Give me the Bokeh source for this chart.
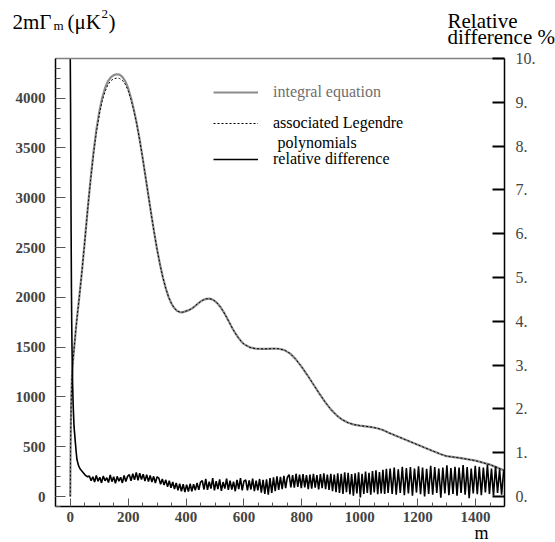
from bokeh.plotting import figure
from bokeh.models import (Range1d, LinearAxis, SingleIntervalTicker, PrintfTickFormatter,
                          FixedTicker, Label, Legend, LegendItem)
from bokeh.embed import file_html
from bokeh.resources import INLINE

# ---------------- data ----------------
cmb_m = [0, 1, 2, 3, 4, 6, 8, 10, 13, 16, 20, 25, 30, 40, 50, 60, 70, 80, 90, 100,
         110, 120, 130, 140, 150, 160, 170, 180, 190, 200, 210, 220, 230, 240, 250,
         260, 270, 280, 290, 300, 310, 320, 330, 340, 350, 360, 370, 380, 390, 400,
         410, 420, 430, 440, 450, 460, 470, 480, 490, 500, 510, 520, 530, 540, 550,
         560, 570, 580, 590, 600, 620, 640, 660, 680, 700, 720, 740, 760, 780, 800,
         820, 840, 860, 880, 900, 920, 940, 960, 980, 1000, 1020, 1040, 1060, 1080,
         1100, 1150, 1200, 1250, 1280, 1300, 1350, 1400, 1450, 1500]
cmb_int = [0, 450, 720, 900, 1030, 1200, 1300, 1380, 1480, 1570, 1700, 1840, 1970, 2250,
           2560, 2880, 3180, 3450, 3680, 3860, 4000, 4100, 4170, 4210, 4232, 4240, 4236,
           4215, 4170, 4100, 4000, 3880, 3740, 3580, 3400, 3210, 3020, 2830, 2650, 2480,
           2330, 2200, 2090, 2000, 1935, 1890, 1862, 1850, 1852, 1862, 1872, 1888, 1910,
           1935, 1958, 1975, 1985, 1987, 1980, 1962, 1935, 1898, 1852, 1800, 1745, 1690,
           1640, 1597, 1560, 1530, 1498, 1485, 1482, 1483, 1485, 1484, 1470, 1435, 1375,
           1300, 1215, 1125, 1035, 950, 875, 815, 770, 740, 722, 712, 705, 697, 685, 668,
           640, 580, 520, 460, 425, 405, 385, 360, 320, 260]
cmb_leg = [0, 450, 720, 900, 1030, 1200, 1300, 1380, 1480, 1570, 1700, 1840, 1970, 2250,
           2560, 2880, 3170, 3430, 3655, 3830, 3968, 4065, 4135, 4175, 4195, 4202, 4198,
           4180, 4140, 4075, 3985, 3870, 3735, 3575, 3400, 3210, 3020, 2830, 2650, 2480,
           2330, 2200, 2090, 2000, 1935, 1890, 1862, 1850, 1852, 1862, 1872, 1888, 1910,
           1935, 1958, 1975, 1985, 1987, 1980, 1962, 1935, 1898, 1852, 1800, 1745, 1690,
           1640, 1597, 1560, 1530, 1498, 1485, 1482, 1483, 1485, 1484, 1470, 1435, 1375,
           1300, 1215, 1125, 1035, 950, 875, 815, 770, 740, 722, 712, 705, 697, 685, 668,
           640, 580, 520, 460, 425, 405, 385, 360, 320, 260]

# relative difference (%), start of curve (visible part, clipped at 10 %)
rel_head_m = [0, 1, 2, 3, 4, 5, 6, 8, 10, 13, 17, 20, 23, 27, 30, 35, 40, 45, 50, 55, 60]
rel_head_v = [10.0, 9.0, 7.5, 6.0, 4.8, 4.0, 3.4, 2.6, 2.1, 1.6, 1.28, 1.05, 0.85, 0.74,
              0.68, 0.62, 0.58, 0.54, 0.50, 0.47, 0.45]
# relative difference (%), sampled every 6 from m = 66
rel_mid_start, rel_mid_step = 66, 6
rel_mid_v = [0.47, 0.36, 0.45, 0.33, 0.48, 0.35, 0.44, 0.31, 0.47, 0.36, 0.43, 0.32, 0.49,
             0.34, 0.45, 0.30, 0.46, 0.35, 0.44, 0.31, 0.48, 0.34, 0.46,
             0.50, 0.36, 0.52, 0.38, 0.55, 0.37, 0.53, 0.39, 0.51, 0.35, 0.50, 0.34, 0.48,
             0.33, 0.46, 0.31, 0.45,
             0.42, 0.28, 0.40, 0.26, 0.38, 0.22, 0.36, 0.20, 0.33, 0.17, 0.31, 0.14, 0.29,
             0.12, 0.28, 0.10, 0.27, 0.11, 0.29, 0.12, 0.28, 0.14, 0.31, 0.15, 0.33,
             0.36, 0.16, 0.40, 0.15, 0.34, 0.18, 0.42, 0.14, 0.35, 0.17, 0.39, 0.13, 0.33,
             0.18, 0.41, 0.15, 0.36, 0.16, 0.34, 0.12, 0.38, 0.17, 0.42, 0.14, 0.35,
             0.38, 0.14, 0.37, 0.16, 0.41, 0.12, 0.36, 0.14, 0.40, 0.09, 0.38, 0.06, 0.39,
             0.04, 0.42, 0.08, 0.44, 0.12, 0.46, 0.15, 0.45, 0.17, 0.47, 0.19, 0.44,
             0.50, 0.21, 0.49, 0.20, 0.52, 0.22, 0.50, 0.19, 0.51, 0.21, 0.49, 0.17, 0.50,
             0.18, 0.52, 0.20, 0.49, 0.16, 0.51, 0.19, 0.53, 0.17, 0.50, 0.15, 0.52,
             0.12, 0.50, 0.10, 0.53, 0.08, 0.52, 0.06, 0.55, 0.10, 0.54, 0.05, 0.51, 0.02,
             0.53, 0.07, 0.55, -0.02, 0.52, 0.06, 0.57, 0.08, 0.54, 0.04, 0.58, 0.09, 0.60,
             0.05, 0.56, 0.07, 0.61, 0.06, 0.63, 0.08]
# relative difference (%), sampled every 7 from m = 1105
rel_tail_start, rel_tail_step = 1105, 7
rel_tail_v = [0.64, 0.06, 0.66, 0.04, 0.62, 0.08, 0.68, 0.03, 0.65, 0.07,
              0.67, 0.02, 0.64, 0.09, 0.69, 0.05, 0.66, 0.00, 0.63, 0.06,
              0.70, 0.04, 0.67, 0.08, 0.64, -0.03, 0.66, 0.07, 0.71, 0.03,
              0.65, 0.06, 0.68, 0.02, 0.66, 0.08, 0.72, 0.04, 0.67, -0.04,
              0.64, 0.07, 0.70, 0.05, 0.68, 0.03, 0.66, 0.09, 0.73, 0.06,
              0.64, 0.02, 0.69, 0.08, 0.62, 0.04, 0.58]

rel_m = (rel_head_m
         + [rel_mid_start + rel_mid_step * i for i in range(len(rel_mid_v))]
         + [rel_tail_start + rel_tail_step * i for i in range(len(rel_tail_v))])
rel_v = rel_head_v + rel_mid_v + rel_tail_v

# ---------------- layout (pixel geometry of the reference) ----------------
W, H = 555, 542
PX_L, PX_R, PX_T, PX_B = 55, 504, 58, 506      # plot box edges
M_L, M_R = -51, 1500                            # m at left / right box edges
kx = (PX_R - PX_L) / (M_R - M_L)
X0, X1 = M_L - PX_L / kx, M_R + (W - PX_R) / kx
V0_PX, V4000_PX = 496.0, 97.7
ky = (V0_PX - V4000_PX) / 4000.0
Y0, Y1 = -(H - V0_PX) / ky, V0_PX / ky
R0_PX, R10_PX = 496.0, 58.0
kr = (R0_PX - R10_PX) / 10.0
R0, R1 = -(H - R0_PX) / kr, R0_PX / kr
SERIF = "Liberation Serif"


def dx(px):
    return X0 + px / kx


def dy(py):
    return (V0_PX - py) / ky


def dr(py):
    return (R0_PX - py) / kr


p = figure(width=W, height=H, x_range=Range1d(X0, X1), y_range=Range1d(Y0, Y1),
           output_backend="svg", toolbar_location=None)
p.min_border_left = 0
p.min_border_right = 0
p.min_border_top = 0
p.min_border_bottom = 0
p.title.visible = False
p.extra_y_ranges = {"rel": Range1d(R0, R1)}
p.xgrid.visible = False
p.ygrid.visible = False
p.outline_line_color = None
p.background_fill_color = "white"
p.border_fill_color = "white"

# left axis
ya = p.yaxis[0]
ya.fixed_location = M_L
ya.bounds = (dy(PX_B), dy(PX_T))
ya.ticker = SingleIntervalTicker(interval=500, num_minor_ticks=5)
ya.major_tick_in = 10
ya.major_tick_out = 0
ya.minor_tick_in = 5
ya.minor_tick_out = 0
ya.major_label_standoff = 10
ya.major_label_text_font = SERIF
ya.major_label_text_font_style = "bold"
ya.major_label_text_font_size = "15px"
ya.axis_line_width = 1.5
ya.major_tick_line_color = "#555555"
ya.minor_tick_line_color = "#555555"

# bottom axis
xa = p.xaxis[0]
xa.fixed_location = dy(PX_B)
xa.bounds = (M_L, M_R)
xa.ticker = SingleIntervalTicker(interval=200, num_minor_ticks=4)
xa.major_tick_in = 8
xa.major_tick_out = 0
xa.minor_tick_in = 4
xa.minor_tick_out = 0
xa.major_label_standoff = 5
xa.major_label_text_font = SERIF
xa.major_label_text_font_style = "bold"
xa.major_label_text_font_size = "15px"
xa.axis_line_width = 1.5
xa.major_tick_line_color = "#555555"
xa.minor_tick_line_color = "#555555"

# right axis (relative difference, %)
ra = LinearAxis(y_range_name="rel", fixed_location=M_R, bounds=(dr(PX_B), dr(PX_T)),
                ticker=SingleIntervalTicker(interval=1, num_minor_ticks=0),
                formatter=PrintfTickFormatter(format="%d."))
ra.major_tick_in = 12
ra.major_tick_out = 0
ra.minor_tick_in = 0
ra.minor_tick_out = 0
ra.major_tick_line_width = 2
ra.major_label_standoff = 11
ra.major_label_text_font = SERIF
ra.major_label_text_font_size = "16px"
ra.axis_line_width = 1.5
p.add_layout(ra, "right")

# top edge of the box (grey line, no ticks)
ta = LinearAxis(fixed_location=dy(PX_T), bounds=(M_L, M_R),
                ticker=FixedTicker(ticks=[], minor_ticks=[]))
ta.axis_line_color = "#808080"
ta.axis_line_width = 1.5
ta.major_tick_line_color = None
ta.minor_tick_line_color = None
p.add_layout(ta, "above")

# curves
r_int = p.line(cmb_m, cmb_int, line_color="#8c8c8c", line_width=2.2)
r_leg = p.line(cmb_m, cmb_leg, line_color="black", line_width=1, line_dash="2 2")
r_rel = p.line(rel_m, rel_v, y_range_name="rel", line_color="black", line_width=1.6)


def make_legend(item, loc, color):
    lg = Legend(items=[item], location=loc, border_line_color=None,
                background_fill_alpha=0, padding=0, margin=0, spacing=0,
                glyph_width=45, glyph_height=16, label_standoff=15, label_height=16,
                label_text_font=SERIF, label_text_font_size="16px",
                label_text_color=color)
    p.add_layout(lg)


make_legend(LegendItem(label="integral equation", renderers=[r_int]), (213, 441), "#6e6e6e")
make_legend(LegendItem(label="associated Legendre", renderers=[r_leg]), (213, 410), "black")
make_legend(LegendItem(label="relative difference", renderers=[r_rel]), (213, 374), "black")


def lab(px, py, text, size, baseline="alphabetic", align="left"):
    p.add_layout(Label(x=dx(px), y=dy(py), text=text, text_font=SERIF,
                       text_font_size=size, text_baseline=baseline, text_align=align,
                       text_color="black"))


lab(277, 142, "polynomials", "16px", baseline="middle")
# 2mΓ_m (μK^2)
lab(12, 21, "2mΓ", "21px")
lab(53, 25, "m", "13px")
lab(67, 21, "(μK", "21px")
lab(101, 13, "2", "13px")
lab(108, 21, ")", "21px")
# right axis title
lab(447, 20, "Relative", "21px")
lab(447, 36, "difference %", "21px")
# x axis title
lab(481, 532, "m", "18px", align="center")

open("out.html", "w").write(file_html(p, INLINE))
